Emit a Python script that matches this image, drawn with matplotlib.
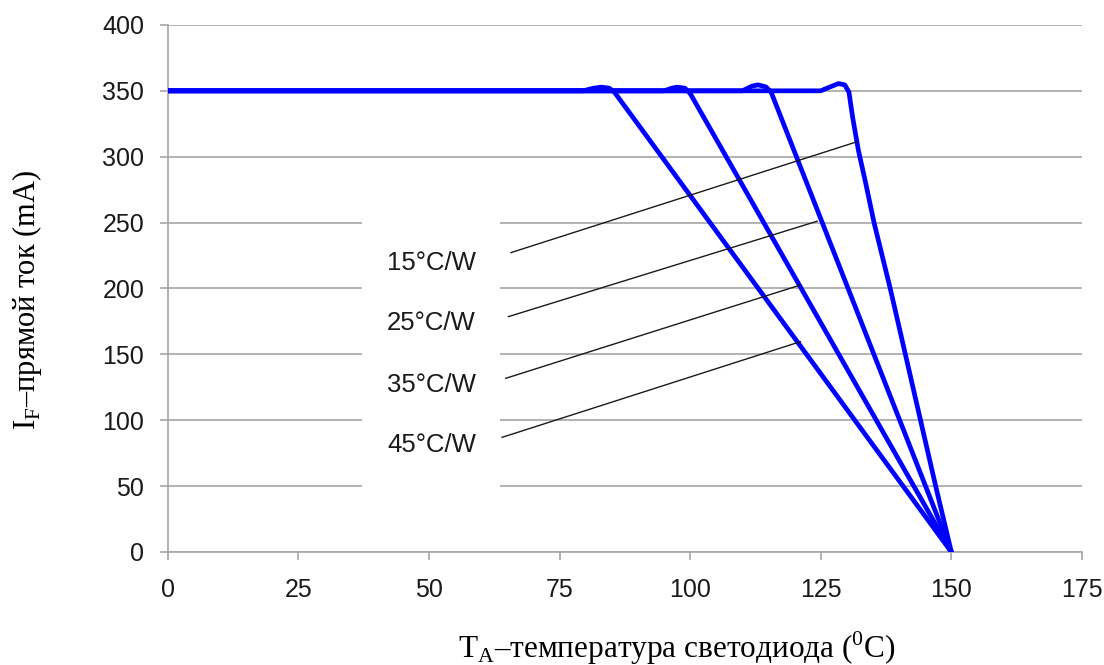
import matplotlib
matplotlib.use('Agg')
import matplotlib.pyplot as plt
from matplotlib.patches import Rectangle

plt.rcParams['font.family'] = ['Liberation Sans', 'DejaVu Sans']
plt.rcParams['mathtext.fontset'] = 'custom'
plt.rcParams['mathtext.rm'] = 'Liberation Serif'

# derating curves: (temperature, current)
t_45 = [0, 79.5, 81.5, 83, 84.5, 85.5, 150]
i_45 = [350, 350, 352, 352.8, 352, 349, 0]
t_35 = [0, 95, 96.5, 97.5, 99, 100, 150]
i_35 = [350, 350, 352, 352.8, 352, 348, 0]
t_25 = [0, 110, 111.8, 113, 114.5, 115.5, 150]
i_25 = [350, 350, 353.5, 354.5, 353, 349, 0]
t_15 = [0, 125, 126.5, 128.4, 129.6, 130.4, 131.1, 132.2, 133.6, 135.2,
        138.3, 141.2, 144.1, 147, 150]
i_15 = [350, 350, 352.5, 355.5, 354.5, 349, 330, 305, 280, 250,
        200, 150, 100, 50, 0]

labels = ['15°C/W', '25°C/W', '35°C/W', '45°C/W']
label_y = [213.7, 168.4, 121.6, 76.1]
# pointer lines: start (x, y) -> end (x, y)
ptr_x0 = [65.7, 65.2, 64.7, 64.0]
ptr_y0 = [227.2, 178.6, 131.8, 87.0]
ptr_x1 = [131.9, 124.3, 121.1, 121.1]
ptr_y1 = [311.3, 251.0, 202.6, 159.6]

xticks = [0, 25, 50, 75, 100, 125, 150, 175]
yticks = [0, 50, 100, 150, 200, 250, 300, 350, 400]

fig = plt.figure(figsize=(11.04, 6.65), dpi=100)
ax = fig.add_axes([0.152, 0.170, 0.828, 0.7925])

grey = '#a6a6a6'
ax.set_xlim(0, 175)
ax.set_ylim(0, 400)
ax.set_xticks(xticks)
ax.set_yticks(yticks)
ax.yaxis.grid(True, color=grey, lw=1.2)
ax.set_axisbelow(True)
for s in ['top', 'right']:
    ax.spines[s].set_visible(False)
for s in ['left', 'bottom']:
    ax.spines[s].set_color(grey)
    ax.spines[s].set_linewidth(1.2)
ax.tick_params(axis='both', colors=grey, length=6, width=1.2, labelsize=18,
               labelcolor='#1a1a1a')
ax.tick_params(axis='y', pad=11)
ax.tick_params(axis='x', pad=13)

# white box behind the labels hides the gridlines
ax.add_patch(Rectangle((37.2, 30), 26.4, 245, facecolor='white',
                       edgecolor='none', zorder=1))

for t, i in [(t_45, i_45), (t_35, i_35), (t_25, i_25), (t_15, i_15)]:
    ax.plot(t, i, color='#0000ff', lw=3.4, solid_joinstyle='round',
            solid_capstyle='round', zorder=3)

for k in range(4):
    ax.plot([ptr_x0[k], ptr_x1[k]], [ptr_y0[k], ptr_y1[k]], color='#1a1a1a',
            lw=1.0, zorder=4)
    ax.text(50.5, label_y[k], labels[k], ha='center', va='baseline',
            fontsize=18.5, color='#1a1a1a', zorder=5)

fig.text(677 / 1104, 1 - 648 / 665,
         r'T$_{\mathrm{A}}$–температура светодиода ($^{0}$C)',
         family='Liberation Serif', fontsize=22.5, ha='center', va='center')
fig.text(27 / 1104, 1 - 300 / 665, r'I$_{\mathrm{F}}$–прямой ток (mA)',
         family='Liberation Serif', fontsize=22, ha='center', va='center',
         rotation=90)

fig.savefig('out.png', dpi=100)
